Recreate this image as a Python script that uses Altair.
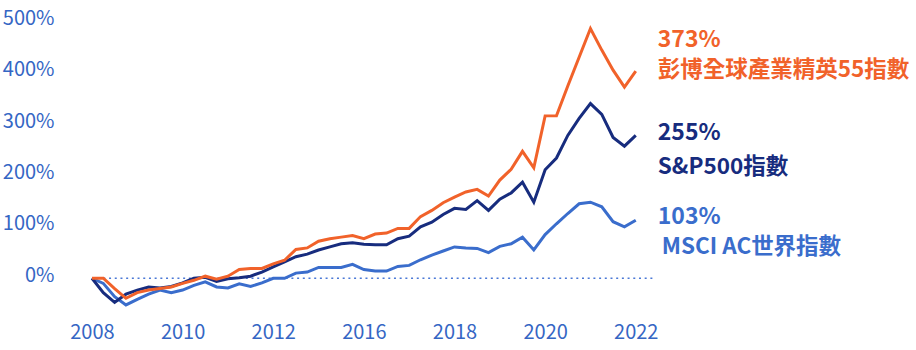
import altair as alt
import pandas as pd

# ---- data ----
series_names = ["彭博全球產業精英55指數", "S&P500指數", "MSCI AC世界指數"]
end_labels = ["373%", "255%", "103%"]
name_labels = ["彭博全球產業精英55指數", "S&P500指數", "MSCI AC世界指數"]

bloomberg = [0, 0, -20, -39, -28, -23, -20, -17, -10, -4, 4, -2, 4, 17, 19, 19, 28, 35,
             56, 59, 72, 77, 80, 83, 77, 86, 88, 97, 97, 120, 132, 147, 158, 168, 173,
             160, 191, 212, 247, 215, 316, 316, 374, 430, 486, 444, 405, 372, 403]
sp500 = [0, -28, -47, -31, -23, -17, -19, -16, -9, 0, 2, -6, -1, 1, 4, 12, 22, 32,
         42, 47, 55, 61, 67, 69, 66, 65, 65, 77, 82, 100, 109, 124, 136, 134, 151,
         132, 154, 166, 187, 148, 211, 234, 278, 311, 340, 319, 274, 257, 278]
msci = [0, -10, -36, -52, -41, -31, -23, -28, -23, -14, -7, -17, -19, -11, -16, -9, 0, 0,
        10, 12, 21, 21, 21, 27, 17, 14, 14, 23, 25, 36, 45, 53, 61, 59, 58,
        50, 62, 67, 80, 55, 85, 106, 126, 145, 148, 139, 110, 100, 113]

year_labels = ["2008", "2010", "2012", "2016", "2018", "2020", "2022"]
year_ticks = [0, 8, 16, 24, 32, 40, 48]
y_ticks = [0, 100, 200, 300, 400, 500]
baseline_end = 49.7

n = len(bloomberg)
rows = []
for name, vals in zip(series_names, [bloomberg, sp500, msci]):
    for i, v in enumerate(vals):
        rows.append({"t": i, "v": v, "s": name})
df = pd.DataFrame(rows)
rule_df = pd.DataFrame({"x0": [0], "x1": [baseline_end], "y": [0]})

# ---- styles ----
colors = ["#F1622A", "#172C7E", "#3A6DCC"]
axis_color = "#3566C4"
FONT = "Noto Sans CJK TC"

x_scale = alt.Scale(domain=[0, 52], nice=False, zero=False)
y_scale = alt.Scale(domain=[-75, 520], nice=False, zero=False)

label_array = "[" + ",".join("'%s'" % y for y in year_labels) + "]"
x_axis = alt.Axis(values=year_ticks, labelExpr=label_array + "[round(datum.value/8)]",
                  title=None, domain=False, ticks=False, grid=False,
                  labelFont=FONT, labelFontSize=20, labelColor=axis_color,
                  labelPadding=16, labelBaseline="middle", labelFlush=False)
y_axis = alt.Axis(values=y_ticks, labelExpr="datum.value + '%'", title=None,
                  domain=False, ticks=False, grid=False,
                  labelFont=FONT, labelFontSize=20, labelColor=axis_color,
                  labelPadding=38, labelOffset=-3)

X = alt.X("t:Q", scale=x_scale, axis=x_axis)
Y = alt.Y("v:Q", scale=y_scale, axis=y_axis)

zero_rule = alt.Chart(rule_df).mark_rule(
    color="#4A78D6", strokeWidth=1.6, strokeDash=[2, 3.7]
).encode(
    x=alt.X("x0:Q", scale=x_scale, axis=x_axis),
    x2="x1:Q",
    y=alt.Y("y:Q", scale=y_scale, axis=y_axis),
)

layers = [zero_rule]
draw_order = [2, 1, 0]
for k in draw_order:
    layers.append(
        alt.Chart(df).transform_filter(alt.datum.s == series_names[k])
        .mark_line(color=colors[k], strokeWidth=3, strokeJoin="miter")
        .encode(x=X, y=Y)
    )

value_dy = [-31, -2, -3]
name_dy = [-1, 32, 27]
name_dx = [22, 22, 26]
for k in range(3):
    last = alt.Chart(df).transform_filter(
        (alt.datum.s == series_names[k]) & (alt.datum.t == n - 1)
    )
    layers.append(last.mark_text(text=end_labels[k], align="left", baseline="middle",
                                 dx=22, dy=value_dy[k], font=FONT, fontSize=23,
                                 fontWeight="bold", color=colors[k]).encode(x=X, y=Y))
    layers.append(last.mark_text(text=name_labels[k], align="left", baseline="middle",
                                 dx=name_dx[k], dy=name_dy[k], font=FONT, fontSize=22.5,
                                 fontWeight="bold", color=colors[k]).encode(x=X, y=Y))

chart = alt.layer(*layers).properties(
    width=52 * 11.333,
    height=595 * 0.514,
    autosize=alt.AutoSizeParams(type="none"),
    padding={"left": 92, "top": 11, "right": 235, "bottom": 33},
    background="white",
).configure_view(stroke=None)

chart.save("out.html", embed_options={"renderer": "svg", "actions": False})
